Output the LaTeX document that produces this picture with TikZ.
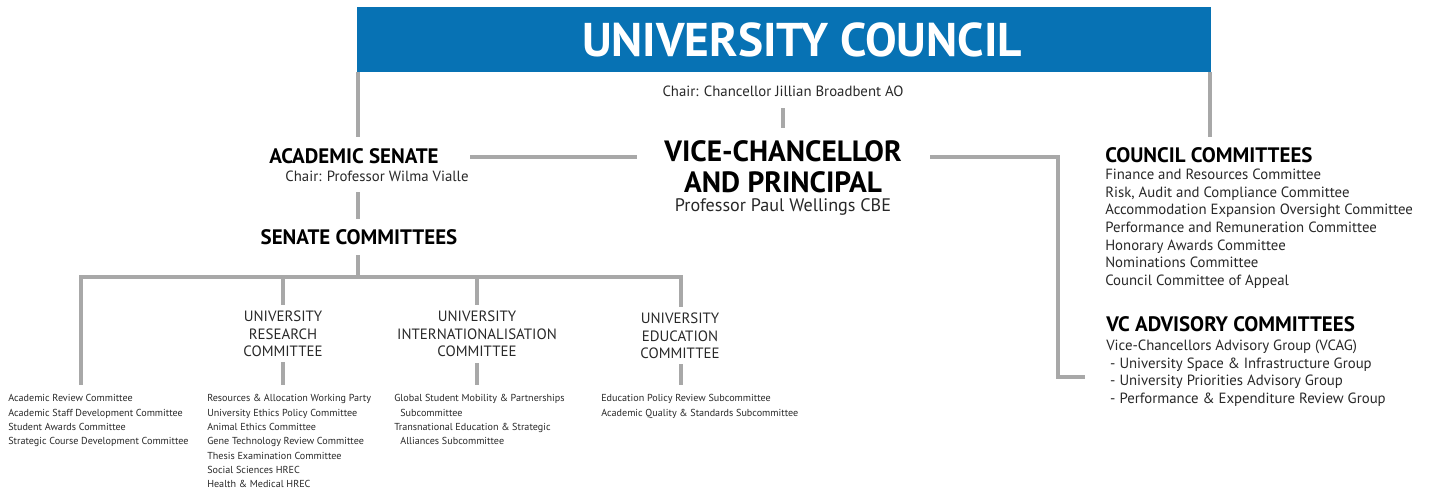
\documentclass[tikz,border=0pt]{standalone}
\usepackage{fontspec}
\setmainfont{PT Sans}
\definecolor{ublue}{RGB}{7,114,180}
\definecolor{lgray}{RGB}{168,168,168}
\definecolor{tgray}{RGB}{40,40,40}
\begin{document}
\begin{tikzpicture}[x=0.75pt,y=-0.75pt,
  conn/.style={draw=lgray,line width=2.4pt},
  head/.style={font=\bfseries\fontsize{15.7}{18}\selectfont,inner sep=0pt,text=black},
  chair/.style={font=\fontsize{11.1}{13}\selectfont,inner sep=0pt,text=tgray},
  sub/.style={font=\fontsize{11.2}{13.1}\selectfont,inner sep=0pt,align=center,text=tgray},
  small/.style={font=\fontsize{7.6}{10.7}\selectfont,inner sep=0pt,align=left,anchor=north west,text=tgray},
  list/.style={font=\fontsize{11.1}{13.3}\selectfont,inner sep=0pt,align=left,anchor=north west,text=tgray}]
\useasboundingbox (0,0) rectangle (1430,493);
% council box
\node[fill=ublue,minimum width=854*0.75pt,minimum height=65*0.75pt,anchor=north west,inner sep=0pt] (council) at (357,7) {};
\node[font=\bfseries\fontsize{35.5}{38}\selectfont,text=white,inner sep=0pt] (ctitle) at (802,40) {UNIVERSITY COUNCIL};
\node[chair] (cchair) at (783,91) {Chair: Chancellor Jillian Broadbent AO};
% VC
\node[font=\bfseries\fontsize{22}{23}\selectfont,align=center,inner sep=0pt] (vc) at (783,167) {VICE-CHANCELLOR\\AND PRINCIPAL};
\node[font=\fontsize{13.6}{15}\selectfont,inner sep=0pt,text=tgray] (vcname) at (783,207) {Professor Paul Wellings CBE};
% academic senate
\node[head] (senate) at (354,156) {ACADEMIC SENATE};
\node[chair] (schair) at (377,176) {Chair: Professor Wilma Vialle};
\node[head] (scomm) at (359,237) {SENATE COMMITTEES};
% university committees
\node[sub] (urc) at (283,334) {UNIVERSITY\\RESEARCH\\COMMITTEE};
\node[sub] (uic) at (477,334) {UNIVERSITY\\INTERNATIONALISATION\\COMMITTEE};
\node[sub] (uec) at (680,336) {UNIVERSITY\\EDUCATION\\COMMITTEE};
% bottom lists
\node[small] (l1) at (8,394.5) {Academic Review Committee\\Academic Staff Development Committee\\Student Awards Committee\\Strategic Course Development Committee};
\node[small] (l2) at (207,394.5) {Resources \& Allocation Working Party\\University Ethics Policy Committee\\Animal Ethics Committee\\Gene Technology Review Committee\\Thesis Examination Committee\\Social Sciences HREC\\Health \& Medical HREC};
\node[small] (l3) at (394,394.5) {Global Student Mobility \& Partnerships\\\hspace*{0.6em}Subcommittee\\Transnational Education \& Strategic\\\hspace*{0.6em}Alliances Subcommittee};
\node[small] (l4) at (601,394.5) {Education Policy Review Subcommittee\\Academic Quality \& Standards Subcommittee};
% council committees
\node[head,anchor=west] (cc) at (1105,155) {COUNCIL COMMITTEES};
\node[list] (ccl) at (1105,168.5) {Finance and Resources Committee\\Risk, Audit and Compliance Committee\\Accommodation Expansion Oversight Committee\\Performance and Remuneration Committee\\Honorary Awards Committee\\Nominations Committee\\Council Committee of Appeal};
\node[head,anchor=west] (vca) at (1106,324) {VC ADVISORY COMMITTEES};
\node[list] (vcal) at (1106,339.5) {Vice-Chancellors Advisory Group (VCAG)\\\ - University Space \& Infrastructure Group\\\ - University Priorities Advisory Group\\\ - Performance \& Expenditure Review Group};
% coordinates
\coordinate (cL) at (358,72); \coordinate (cLe) at (358,137);
\coordinate (cR) at (1210,72); \coordinate (cRe) at (1210,137);
\coordinate (v1) at (783,108); \coordinate (v2) at (783,128);
\coordinate (sA) at (470,157); \coordinate (sB) at (637,157);
\coordinate (vA) at (930,157); \coordinate (vB) at (1058,157); \coordinate (vC) at (1058,377); \coordinate (vD) at (1085,377);
\coordinate (s1) at (358,192); \coordinate (s2) at (358,219);
\coordinate (t1) at (358,255); \coordinate (t2) at (358,277);
\coordinate (hL) at (81,277); \coordinate (hR) at (681,277);
\coordinate (d1) at (81,385);
\coordinate (d2a) at (283,277); \coordinate (d2b) at (283,305);
\coordinate (d3a) at (477,277); \coordinate (d3b) at (477,305);
\coordinate (d4a) at (681,277); \coordinate (d4b) at (681,307);
\coordinate (e2a) at (283,362); \coordinate (e2b) at (283,385);
\coordinate (e3a) at (477,363); \coordinate (e3b) at (477,385);
\coordinate (e4a) at (681,364); \coordinate (e4b) at (681,385);
\draw[conn] (cL) -- (cLe);
\draw[conn] (cR) -- (cRe);
\draw[conn] (v1) -- (v2);
\draw[conn] (sA) -- (sB);
\draw[conn] (vA) -- (vB) -- (vC) -- (vD);
\draw[conn] (s1) -- (s2);
\draw[conn] (t1) -- (t2);
\draw[conn] (d1) -- (hL) -- (hR) -- (d4b);
\draw[conn] (d2a) -- (d2b);
\draw[conn] (d3a) -- (d3b);
\draw[conn] (e2a) -- (e2b);
\draw[conn] (e3a) -- (e3b);
\draw[conn] (e4a) -- (e4b);
\end{tikzpicture}
\end{document}
